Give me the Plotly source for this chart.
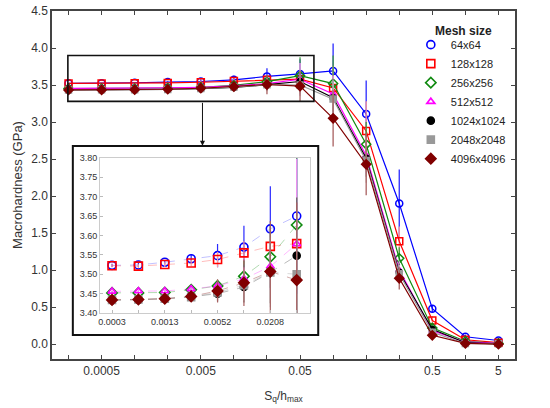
import plotly.graph_objects as go

# S_q/h_max steps are equally spaced in the original chart; only some are labelled
n_main = 14
n_inset = 8
main_tick_pos = [1, 4, 7, 11, 13]
main_tick_text = ["0.0005", "0.005", "0.05", "0.5", "5"]
inset_tick_pos = [0, 2, 4, 6]
inset_tick_text = ["0.0003", "0.0013", "0.0052", "0.0208"]

mesh_names = ["64x64", "128x128", "256x256", "512x512", "1024x1024", "2048x2048", "4096x4096"]

# macrohardness (GPa)
h64 = [3.523, 3.524, 3.531, 3.540, 3.548, 3.570, 3.617, 3.650, 3.69, 3.11, 1.90, 0.48, 0.10, 0.05]
h128 = [3.522, 3.521, 3.525, 3.529, 3.538, 3.555, 3.572, 3.579, 3.46, 2.88, 1.39, 0.32, 0.06, 0.02]
h256 = [3.452, 3.452, 3.453, 3.460, 3.470, 3.495, 3.545, 3.627, 3.52, 2.70, 1.16, 0.22, 0.04, 0.01]
h512 = [3.456, 3.457, 3.457, 3.462, 3.470, 3.488, 3.520, 3.578, 3.38, 2.55, 1.00, 0.18, 0.03, 0.01]
h1024 = [3.433, 3.434, 3.437, 3.442, 3.450, 3.467, 3.505, 3.548, 3.33, 2.51, 0.97, 0.20, 0.02, 0.005]
h2048 = [3.434, 3.435, 3.437, 3.441, 3.453, 3.472, 3.505, 3.500, 3.31, 2.48, 0.95, 0.16, 0.01, 0.005]
h4096 = [3.434, 3.435, 3.437, 3.443, 3.457, 3.478, 3.507, 3.485, 3.05, 2.43, 0.89, 0.12, 0.01, 0.0]

# error bars (GPa)
e64 = [0.004, 0.005, 0.006, 0.010, 0.030, 0.055, 0.11, 0.20, 0.37, 0.45, 0.46, 0.05, 0.03, 0.02]
e128 = [0.004, 0.005, 0.006, 0.008, 0.020, 0.030, 0.05, 0.12, 0.30, 0.40, 0.20, 0.06, 0.03, 0.02]
e256 = [0.004, 0.005, 0.006, 0.008, 0.015, 0.040, 0.08, 0.25, 0.38, 0.30, 0.15, 0.05, 0.03, 0.02]
e512 = [0.004, 0.005, 0.005, 0.006, 0.012, 0.030, 0.06, 0.22, 0.25, 0.25, 0.12, 0.05, 0.03, 0.02]
e1024 = [0.004, 0.005, 0.005, 0.008, 0.020, 0.040, 0.08, 0.15, 0.25, 0.25, 0.12, 0.05, 0.03, 0.02]
e2048 = [0.004, 0.005, 0.005, 0.008, 0.020, 0.040, 0.09, 0.15, 0.25, 0.30, 0.12, 0.05, 0.03, 0.02]
e4096 = [0.004, 0.005, 0.006, 0.010, 0.030, 0.060, 0.13, 0.20, 0.38, 0.42, 0.15, 0.05, 0.03, 0.02]

# colour, error-bar colour, faint inset line colour, symbol, size
series = [
    (h64, e64, "#0000ff", "#2a2aff", "rgba(80,80,255,0.45)", "circle-open", 7),
    (h128, e128, "#ff0000", "#ff9a9a", "rgba(255,70,70,0.45)", "square-open", 7),
    (h256, e256, "#108a10", "#40a040", "rgba(40,150,40,0.45)", "diamond-open", 7),
    (h512, e512, "#ff00ff", "#ff90ff", "rgba(255,60,255,0.45)", "triangle-up-open", 6),
    (h1024, e1024, "#000000", "#666666", "rgba(60,60,60,0.45)", "circle", 6),
    (h2048, e2048, "#999999", "#c0c0c0", "rgba(150,150,150,0.45)", "square", 6),
    (h4096, e4096, "#800000", "#a86060", "rgba(128,20,20,0.45)", "diamond", 7),
]

FONT = "Liberation Sans, Arial, sans-serif"
AXIS_COL = "#444444"

fig = go.Figure()

main_x = list(range(n_main))
inset_x = list(range(n_inset))

for name, (h, e, col, ecol, icol, sym, size) in zip(mesh_names, series):
    fig.add_trace(go.Scatter(
        x=main_x, y=h, mode="lines+markers", name=name, showlegend=False,
        line=dict(color=col, width=1.2),
        marker=dict(symbol=sym, size=size, color=col, line=dict(color=col, width=1.5)),
        error_y=dict(type="data", array=e, color=ecol, thickness=1.3, width=0),
    ))
    # inset copy of the first part
    fig.add_trace(go.Scatter(
        x=inset_x, y=h[:n_inset], mode="lines+markers", showlegend=False,
        xaxis="x2", yaxis="y2",
        line=dict(color=icol, width=0.8, dash="dash"),
        marker=dict(symbol=sym, size=size + 1, color=col, line=dict(color=col, width=1.6)),
        error_y=dict(type="data", array=e[:n_inset], color=ecol, thickness=1.2, width=0),
    ))
    # legend entry: marker only
    fig.add_trace(go.Scatter(
        x=[None], y=[None], mode="markers", name=name,
        marker=dict(symbol=sym, size=size + 1, color=col, line=dict(color=col, width=1.6)),
    ))

fig.update_layout(
    width=550, height=408,
    margin=dict(l=52, r=35, t=11, b=49),
    paper_bgcolor="white", plot_bgcolor="rgba(0,0,0,0)",
    font=dict(family=FONT, size=12, color="#333333"),
    xaxis=dict(
        domain=[0, 1], range=[-0.5, n_main - 0.5], automargin=False,
        tickmode="array", tickvals=main_tick_pos, ticktext=main_tick_text,
        ticks="inside", ticklen=4, tickcolor=AXIS_COL,
        minor=dict(tickmode="array", tickvals=main_x, ticks="inside", ticklen=4,
                   tickcolor=AXIS_COL, showgrid=False),
        showline=True, linecolor=AXIS_COL, linewidth=1.5, mirror="ticks",
        showgrid=False, zeroline=False,
        title=dict(text="S<sub>q</sub>/h<sub>max</sub>", font=dict(size=12), standoff=14),
    ),
    yaxis=dict(
        domain=[0, 1], range=[-0.2, 4.5], dtick=0.5, tickformat=".1f", automargin=False,
        ticks="inside", ticklen=4, tickcolor=AXIS_COL,
        showline=True, linecolor=AXIS_COL, linewidth=1.5, mirror="ticks",
        showgrid=False, zeroline=False,
        title=dict(text="Macrohardness (GPa)", font=dict(size=13), standoff=6),
    ),
    xaxis2=dict(
        domain=[0.104, 0.557], anchor="y2", range=[-0.45, n_inset - 0.5], automargin=False,
        tickmode="array", tickvals=inset_tick_pos, ticktext=inset_tick_text,
        ticks="inside", ticklen=3, tickcolor="#bbbbbb",
        minor=dict(tickmode="array", tickvals=inset_x, ticks="inside", ticklen=3,
                   tickcolor="#bbbbbb", showgrid=False),
        showline=True, linecolor="#cccccc", linewidth=1, mirror=True,
        showgrid=False, zeroline=False, tickfont=dict(size=9),
    ),
    yaxis2=dict(
        domain=[0.132, 0.578], anchor="x2", range=[3.40, 3.80], dtick=0.05, tickformat=".2f",
        automargin=False,
        ticks="inside", ticklen=3, tickcolor="#bbbbbb",
        showline=True, linecolor="#cccccc", linewidth=1, mirror=True,
        showgrid=False, zeroline=False, tickfont=dict(size=9),
    ),
    legend=dict(
        x=0.775, y=0.945, xanchor="left", yanchor="top",
        bgcolor="rgba(0,0,0,0)", font=dict(size=11, color="#222222"),
        itemwidth=30, tracegroupgap=0,
    ),
)

# zoom window on the main plot, outer frame of the inset and the arrow between them
fig.add_shape(type="rect", xref="x", yref="y", x0=-0.02, x1=7.42, y0=3.28, y1=3.90,
              line=dict(color="#111111", width=1.6))
fig.add_shape(type="rect", xref="paper", yref="paper", x0=0.045, x1=0.575, y0=0.069, y1=0.612,
              line=dict(color="#111111", width=2))
fig.add_annotation(x=4.05, y=2.68, ax=4.05, ay=3.28, xref="x", yref="y", axref="x", ayref="y",
                   text="", showarrow=True, arrowhead=2, arrowsize=1, arrowwidth=1,
                   arrowcolor="#111111")
fig.add_annotation(x=0.823, y=0.968, xref="paper", yref="paper", xanchor="left", yanchor="top",
                   text="<b>Mesh size</b>", showarrow=False, font=dict(size=12, color="#222222"))

# the page's default body margin would shift the 550x408 figure
fig.write_html("out.html", config={"displayModeBar": False},
               post_script="document.body.style.margin = '0px';")
